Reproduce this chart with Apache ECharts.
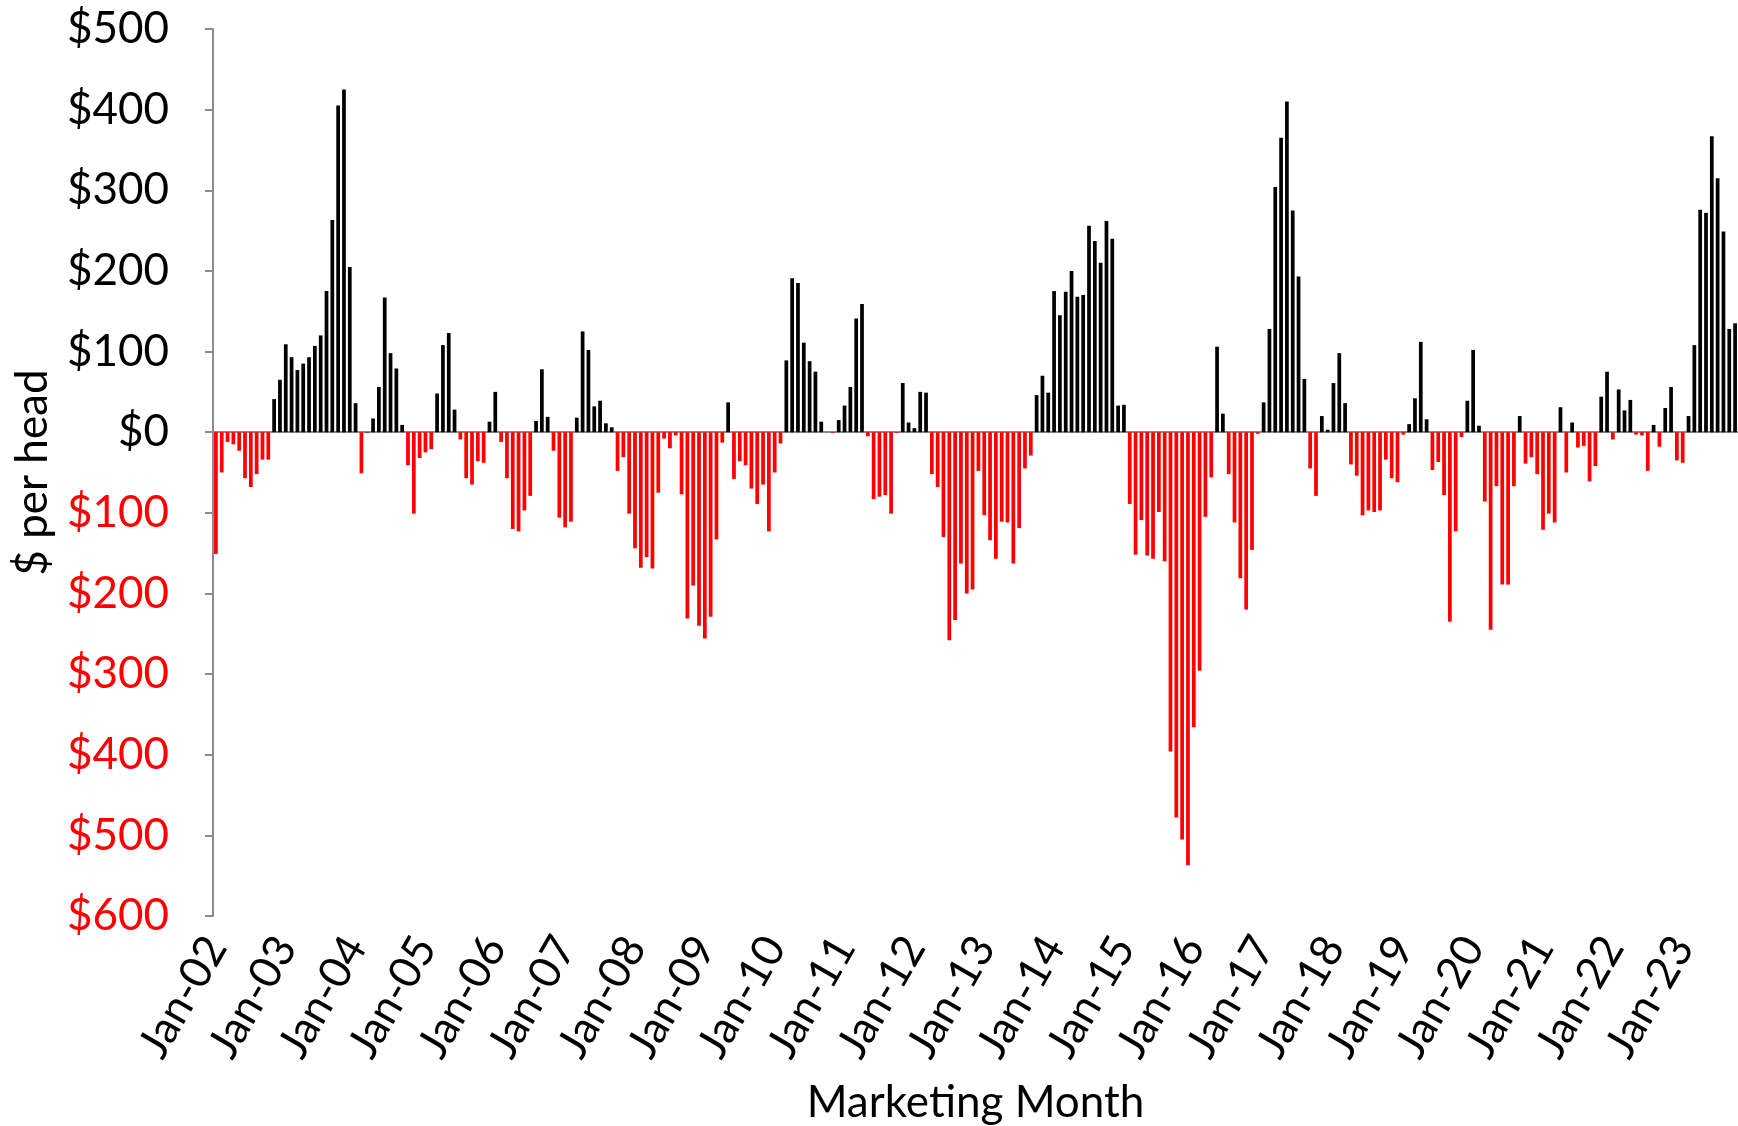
<!DOCTYPE html>
<html>
<head>
<meta charset="utf-8">
<script src="https://cdn.jsdelivr.net/npm/echarts@6/dist/echarts.min.js"></script>
<style>
    html, body { margin: 0; padding: 0; background: #fff; }
    #chart { width: 1738px; height: 1126px; }
</style>
</head>
<body>
<div id="chart"></div>
<script>
// 月份标签
const monthNames = ['Jan', 'Feb', 'Mar', 'Apr', 'May', 'Jun', 'Jul', 'Aug', 'Sep', 'Oct', 'Nov', 'Dec'];
const years = ['02', '03', '04', '05', '06', '07', '08', '09', '10', '11', '12',
    '13', '14', '15', '16', '17', '18', '19', '20', '21', '22', '23'];

// 每头利润 ($), Jan-02 起按月
const perHead = [
    -151, -50, -12, -15, -23, -57, -68, -52, -34, -34, 41, 65,
    109, 93, 77, 85, 93, 107, 120, 175, 263, 405, 425, 205,
    36, -51, -1, 17, 56, 167, 98, 79, 9, -41, -101, -32,
    -25, -21, 48, 108, 123, 28, -9, -57, -65, -36, -38, 13,
    50, -12, -57, -120, -123, -97, -79, 14, 78, 19, -23, -106,
    -118, -111, 18, 125, 102, 32, 39, 11, 6, -48, -31, -101,
    -144, -168, -155, -169, -75, -8, -20, -4, -77, -231, -190, -240,
    -256, -229, -133, -13, 37, -58, -36, -41, -70, -89, -65, -123,
    -50, -14, 89, 191, 185, 111, 88, 75, 13, 0, -1, 15,
    33, 56, 141, 159, -5, -83, -80, -78, -101, -1, 61, 12,
    5, 50, 49, -52, -68, -130, -258, -233, -163, -200, -195, -48,
    -103, -134, -157, -111, -112, -163, -119, -45, -29, 46, 70, 49,
    175, 145, 174, 200, 168, 170, 256, 237, 210, 262, 240, 33,
    34, -89, -152, -109, -153, -157, -99, -160, -396, -478, -505, -537,
    -366, -296, -105, -56, 106, 23, -52, -112, -181, -220, -146, -2,
    37, 128, 304, 365, 410, 275, 193, 66, -45, -79, 20, 3,
    61, 98, 36, -40, -54, -103, -97, -99, -97, -34, -57, -62,
    -3, 10, 42, 112, 16, -47, -37, -78, -235, -123, -6, 39,
    102, 8, -86, -245, -67, -189, -189, -67, 20, -39, -31, -52,
    -121, -101, -112, 31, -50, 12, -19, -17, -61, -42, 44, 75,
    -9, 53, 27, 40, -3, -4, -48, 9, -18, 30, 56, -35,
    -38, 20, 108, 276, 272, 367, 315, 249, 128, 135
];

// 纵轴刻度
const yMin = -600;
const yMax = 500;
const yStep = 100;

const categories = [];
years.forEach(y => monthNames.forEach(m => categories.push(m + '-' + y)));
categories.length = perHead.length;

function initChart() {
    const chart = echarts.init(document.getElementById('chart'));
    const font = 'Lato, "Open Sans", sans-serif';
    const axisGray = '#8c8c8c';

    const option = {
        animation: false,
        grid: {
            left: 213,
            right: 0,
            top: 29,
            bottom: 210,
            outerBoundsMode: 'none'
        },
        xAxis: [{
            // 零线 + 年度刻度
            type: 'category',
            position: 'top',
            data: categories,
            boundaryGap: true,
            axisLine: {
                onZero: true,
                lineStyle: { color: axisGray, width: 2 }
            },
            axisTick: {
                inside: true,
                length: 13,
                interval: function(idx) { return idx % 12 === 0; },
                lineStyle: { color: axisGray, width: 2 }
            },
            axisLabel: { show: false },
            splitLine: { show: false }
        }, {
            // 底部标签
            type: 'category',
            position: 'bottom',
            data: categories,
            boundaryGap: true,
            axisLine: { show: false, onZero: false },
            axisTick: { show: false },
            axisLabel: {
                interval: function(idx) { return idx % 12 === 0; },
                rotate: 60,
                margin: 24,
                fontSize: 44,
                fontFamily: font,
                color: '#000'
            },
            name: 'Marketing Month',
            nameLocation: 'middle',
            nameGap: 165,
            nameTextStyle: {
                fontSize: 44,
                fontFamily: font,
                color: '#000'
            }
        }],
        yAxis: {
            type: 'value',
            min: yMin,
            max: yMax,
            interval: yStep,
            axisLine: {
                show: true,
                lineStyle: { color: axisGray, width: 2 }
            },
            axisTick: {
                show: true,
                length: 8,
                lineStyle: { color: axisGray, width: 2 }
            },
            splitLine: { show: false },
            axisLabel: {
                margin: 44,
                fontSize: 44,
                fontFamily: font,
                formatter: function(v) { return '$' + Math.abs(v); },
                color: function(v) { return Number(v) < 0 ? '#ff0000' : '#000'; }
            },
            name: '$ per head',
            nameLocation: 'middle',
            nameGap: 158,
            nameTextStyle: {
                fontSize: 44,
                fontFamily: font,
                color: '#000'
            }
        },
        series: [{
            type: 'bar',
            xAxisIndex: 0,
            data: perHead,
            barWidth: '64%',
            itemStyle: {
                color: function(params) {
                    return params.value < 0 ? '#ff0000' : '#000000';
                }
            }
        }]
    };
    chart.setOption(option);
}

document.addEventListener('DOMContentLoaded', initChart);
</script>
</body>
</html>
